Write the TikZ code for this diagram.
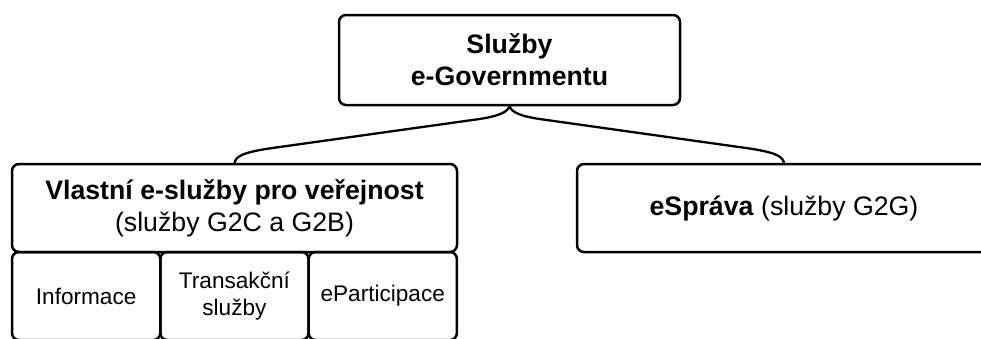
\documentclass[tikz,border=0pt]{standalone}
\usepackage{fontspec}
\setmainfont{Liberation Sans}
\usetikzlibrary{calc,positioning}
\tikzset{
  box/.style={draw=black, line width=2.5pt, rounded corners=7pt, outer sep=0pt, align=center, font=\fontsize{26.7}{32}\selectfont},
  subbox/.style={box, minimum width=148.3pt, minimum height=88pt, font=\fontsize{22.6}{26.7}\selectfont},
  link/.style={draw=black, line width=2.3pt},
}
\begin{document}
\begin{tikzpicture}[x=1pt, y=-1pt]
\path[use as bounding box, fill=white] (0,0) rectangle (981,338);
\clip (0,0) rectangle (981,338);
\node[box, minimum width=341pt, minimum height=90pt, font=\fontsize{26.7}{32}\selectfont\bfseries] (egov) at (509.5,60) {Služby\\e-Governmentu};
\node[box, minimum width=445pt, minimum height=88pt] (verejnost) at (234.5,208) {\textbf{Vlastní e-služby pro veřejnost}\\(služby G2C a G2B)};
\node[box, minimum width=414pt, minimum height=88pt] (esprava) at (784,208) {\textbf{eSpráva} (služby G2G)};
\node[subbox, below right=0pt and 0pt of verejnost.south west] (informace) {Informace};
\node[subbox, right=0pt of informace] (transakce) {Transakční\\služby};
\node[subbox, right=0pt of transakce] (eparticipace) {eParticipace};
\draw[link] (egov.south) .. controls +(0,8) and +(14,-2) .. ($(egov.south)+(-30,14)$)
  -- ($(verejnost.north)+(38,-16)$) .. controls +(-28,4) and +(0,-8) .. (verejnost.north);
\draw[link] (egov.south) .. controls +(0,8) and +(-14,-2) .. ($(egov.south)+(30,14)$)
  -- ($(esprava.north)+(-38,-16)$) .. controls +(28,4) and +(0,-8) .. (esprava.north);
\end{tikzpicture}
\end{document}
